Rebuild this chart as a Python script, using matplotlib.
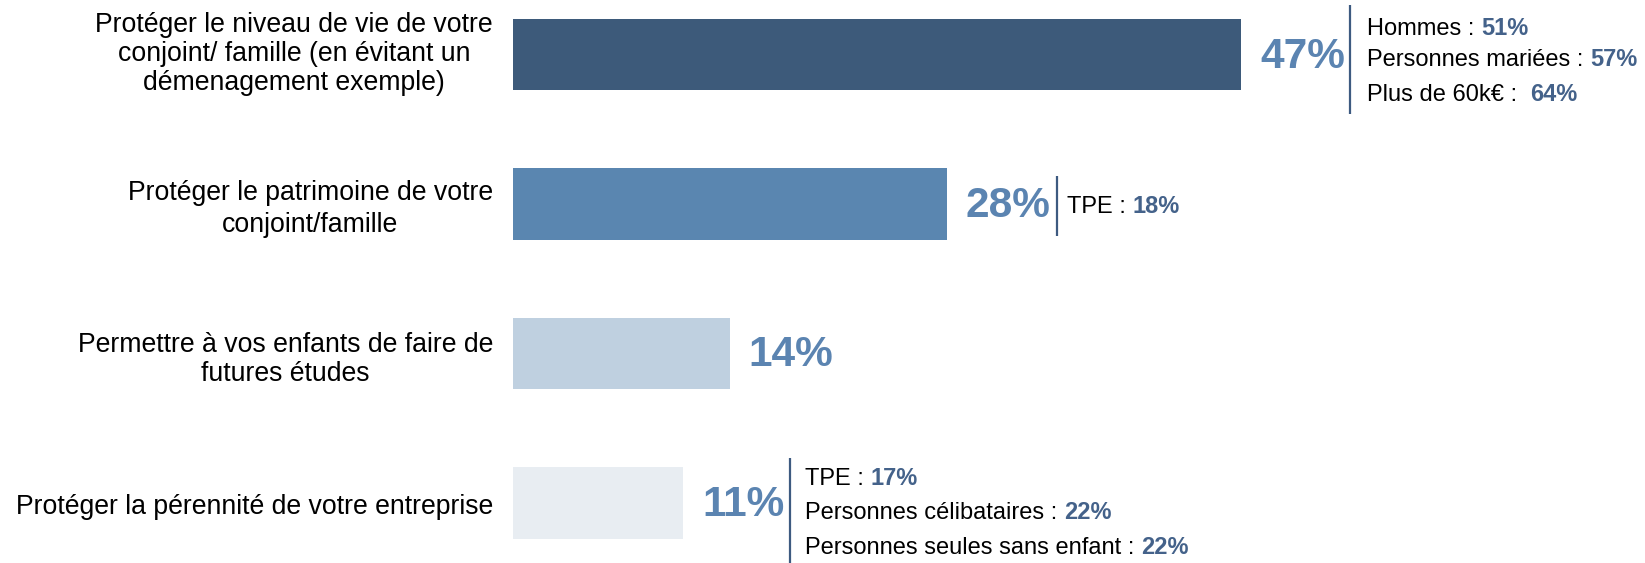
import matplotlib.pyplot as plt

plt.rcParams['font.family'] = ['Liberation Sans', 'DejaVu Sans']

# données
categories = [
    "Protéger le niveau de vie de votre\nconjoint/ famille (en évitant un\ndémenagement exemple)",
    "Protéger le patrimoine de votre\nconjoint/famille",
    "Permettre à vos enfants de faire de\nfutures études",
    "Protéger la pérennité de votre entreprise",
]
valeurs = [47, 28, 14, 11]
details = [
    [("Hommes : ", "51%"), ("Personnes mariées : ", "57%"), ("Plus de 60k€ :  ", "64%")],
    [("TPE : ", "18%")],
    [],
    [("TPE : ", "17%"), ("Personnes célibataires : ", "22%"), ("Personnes seules sans enfant : ", "22%")],
]

couleurs = ["#3D5A7A", "#5A86B0", "#BFD0E0", "#E8EDF2"]
bleu_pct = "#5B84B1"
bleu_fonce = "#44628A"

# mise en page (pixels)
PX = 0.72  # px -> pt
interligne = [1.15, 1.3, 1.18, 1.15]
label_dy = [-1, 5, 6, 4]                           # décalage vertical des libellés
ligne_dx = [109, 110, 0, 107]                      # trait vertical / fin de barre
ligne_y = [(-50, 59), (-28, 32), None, (-45, 62)]  # étendue du trait autour du centre
texte_dy = [[-26, 5, 40], [3], [], [-24, 10, 45]]  # centres des lignes de texte
texte_dx = [17, 10, 0, 15]

fig = plt.figure(figsize=(16.45, 5.63), dpi=100)
ax = fig.add_axes([513 / 1645, 0, 1132 / 1645, 1])

y = list(range(len(valeurs)))
ax.barh(y, valeurs, height=0.48, color=couleurs)
ax.set_xlim(0, 1132 / 15.49)
ax.set_ylim((563 - 54.5) / 149.5, -54.5 / 149.5)
ax.set_xticks([])
ax.set_yticks([])
for s in ax.spines.values():
    s.set_visible(False)

# libellés des catégories
for i, cat in enumerate(categories):
    ax.annotate(cat, xy=(0, i), xytext=(-20 * PX, -label_dy[i] * PX), textcoords="offset points",
                ha="right", va="center", multialignment="center", linespacing=interligne[i],
                fontsize=19.2, color="black")

for i, v in enumerate(valeurs):
    ax.annotate(f"{v}%", xy=(v, i), xytext=(19 * PX, -2 * PX), textcoords="offset points",
                va="center", ha="left", fontsize=30.5, fontweight="bold", color=bleu_pct)
    if not details[i]:
        continue
    lx = v + ligne_dx[i] / 15.49
    y0, y1 = ligne_y[i]
    ax.plot([lx, lx], [i + y0 / 149.5, i + y1 / 149.5], color="#3D5A80", lw=1.6,
            solid_capstyle="butt", clip_on=False)
    for (lib, num), dy in zip(details[i], texte_dy[i]):
        t = ax.annotate(lib, xy=(lx, i), xytext=(texte_dx[i] * PX, -dy * PX),
                        textcoords="offset points", va="center", ha="left",
                        fontsize=17, color="black")
        ax.annotate(num, xy=(1, 0), xycoords=t, va="bottom", ha="left",
                    fontsize=17, fontweight="bold", color=bleu_fonce)

fig.savefig("out.png", dpi=100)
